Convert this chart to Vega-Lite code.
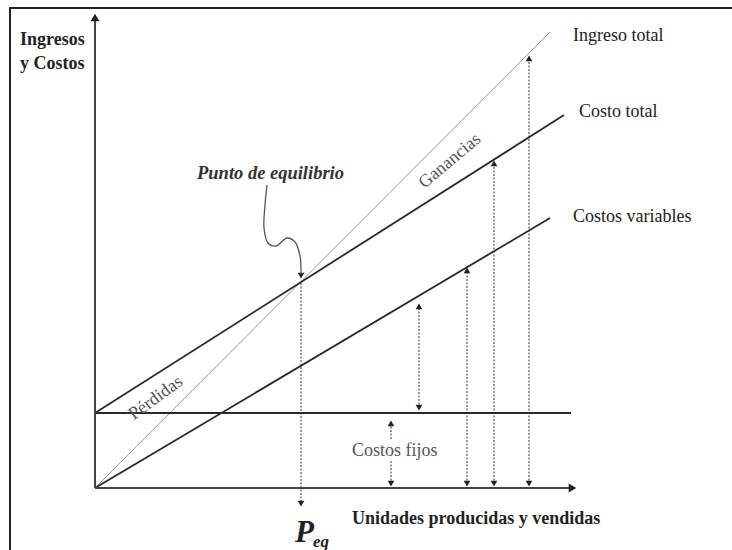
{
  "$schema": "https://vega.github.io/schema/vega-lite/v6.json",
  "width": 732,
  "height": 550,
  "autosize": "none",
  "padding": 0,
  "background": "white",
  "config": {"view": {"stroke": null}, "font": "Liberation Serif"},
  "datasets": {
    "marco": [
      {"x": -85, "y": -62, "orden": 1},
      {"x": -85, "y": 480, "orden": 2},
      {"x": 637, "y": 480, "orden": 3}
    ],
    "ejes": [
      {"eje": "Ingresos y Costos", "x": 0, "y": 0, "x2": 0, "y2": 470},
      {"eje": "Unidades", "x": 0, "y": 0, "x2": 478, "y2": 0}
    ],
    "puntas_ejes": [
      {"eje": "Ingresos y Costos", "x": 0, "y": 475, "sentido": "arriba"},
      {"eje": "Unidades", "x": 482, "y": 0, "sentido": "derecha"}
    ],
    "rectas": [
      {"serie": "Ingreso total", "x": 0, "y": 0, "x2": 455, "y2": 456},
      {"serie": "Costo total", "x": 0, "y": 75, "x2": 469, "y2": 373},
      {"serie": "Costos variables", "x": 0, "y": 0, "x2": 455, "y2": 270},
      {"serie": "Costos fijos", "x": 0, "y": 75, "x2": 476, "y2": 75}
    ],
    "cotas": [
      {"cota": "Peq", "x": 206, "y": -14, "x2": 206, "y2": 206},
      {"cota": "variable", "x": 324, "y": 80, "x2": 324, "y2": 180},
      {"cota": "fijos", "x": 296, "y": 4, "x2": 296, "y2": 28},
      {"cota": "fijos", "x": 296, "y": 49, "x2": 296, "y2": 64},
      {"cota": "cv", "x": 372, "y": 4, "x2": 372, "y2": 216},
      {"cota": "ct", "x": 399, "y": 4, "x2": 399, "y2": 323},
      {"cota": "it", "x": 434, "y": 4, "x2": 434, "y2": 428}
    ],
    "puntas_arriba": [
      {"x": 324, "y": 185},
      {"x": 296, "y": 68},
      {"x": 372, "y": 221},
      {"x": 399, "y": 328},
      {"x": 434, "y": 433}
    ],
    "puntas_abajo": [
      {"x": 206, "y": -19},
      {"x": 324, "y": 77},
      {"x": 296, "y": 1},
      {"x": 372, "y": 1},
      {"x": 399, "y": 1},
      {"x": 434, "y": 1},
      {"x": 206, "y": 209}
    ],
    "curva": [
      {"x": 172, "y": 303, "orden": 1},
      {"x": 170, "y": 283, "orden": 2},
      {"x": 169, "y": 260, "orden": 3},
      {"x": 173, "y": 245, "orden": 4},
      {"x": 181, "y": 242, "orden": 5},
      {"x": 192, "y": 250, "orden": 6},
      {"x": 200, "y": 246, "orden": 7},
      {"x": 205, "y": 232, "orden": 8},
      {"x": 206, "y": 214, "orden": 9}
    ],
    "titulos_ejes": [
      {"texto": "Ingresos", "x": -75, "y": 443},
      {"texto": "y Costos", "x": -75, "y": 419},
      {"texto": "Unidades producidas y vendidas", "x": 257, "y": -36}
    ],
    "etiquetas_rectas": [
      {"texto": "Ingreso total", "x": 478, "y": 447},
      {"texto": "Costo total", "x": 484, "y": 371},
      {"texto": "Costos variables", "x": 478, "y": 266}
    ],
    "ganancias": [{"texto": "Ganancias", "x": 355, "y": 327}],
    "perdidas": [{"texto": "Pérdidas", "x": 61, "y": 90}],
    "costos_fijos": [{"texto": "Costos fijos", "x": 257, "y": 32}],
    "punto": [{"texto": "Punto de equilibrio", "x": 102, "y": 309}],
    "p": [{"texto": "P", "x": 200, "y": -54}],
    "eq": [{"texto": "eq", "x": 218, "y": -59}]
  },
  "encoding": {
    "x": {"field": "x", "type": "quantitative", "scale": {"domain": [-95, 637], "nice": false, "zero": false}, "axis": null},
    "y": {"field": "y", "type": "quantitative", "scale": {"domain": [-62, 488], "nice": false, "zero": false}, "axis": null}
  },
  "layer": [
    {
      "data": {"name": "marco"},
      "mark": {"type": "line", "color": "#222", "strokeWidth": 2},
      "encoding": {"order": {"field": "orden", "type": "quantitative"}}
    },
    {
      "data": {"name": "rectas"},
      "transform": [{"filter": "datum.serie === 'Ingreso total'"}],
      "mark": {"type": "rule", "color": "#9a9a9a", "strokeWidth": 1},
      "encoding": {"x2": {"field": "x2"}, "y2": {"field": "y2"}}
    },
    {
      "data": {"name": "rectas"},
      "transform": [{"filter": "datum.serie !== 'Ingreso total'"}],
      "mark": {"type": "rule", "color": "#2a2a2a", "strokeWidth": 1.8},
      "encoding": {"x2": {"field": "x2"}, "y2": {"field": "y2"}}
    },
    {
      "data": {"name": "cotas"},
      "mark": {"type": "rule", "color": "#333", "strokeWidth": 1, "strokeDash": [2, 1.5]},
      "encoding": {"x2": {"field": "x2"}, "y2": {"field": "y2"}}
    },
    {
      "data": {"name": "ejes"},
      "mark": {"type": "rule", "color": "#444", "strokeWidth": 2},
      "encoding": {"x2": {"field": "x2"}, "y2": {"field": "y2"}}
    },
    {
      "data": {"name": "puntas_ejes"},
      "transform": [{"filter": "datum.sentido === 'arriba'"}],
      "mark": {"type": "point", "shape": "triangle-up", "filled": true, "color": "#222", "size": 80, "opacity": 1, "yOffset": 4.5}
    },
    {
      "data": {"name": "puntas_ejes"},
      "transform": [{"filter": "datum.sentido === 'derecha'"}],
      "mark": {"type": "point", "shape": "triangle-right", "filled": true, "color": "#222", "size": 80, "opacity": 1, "xOffset": -4.5}
    },
    {
      "data": {"name": "puntas_arriba"},
      "mark": {"type": "point", "shape": "triangle-up", "filled": true, "color": "#222", "size": 45, "opacity": 1, "yOffset": 3.4}
    },
    {
      "data": {"name": "puntas_abajo"},
      "mark": {"type": "point", "shape": "triangle-down", "filled": true, "color": "#222", "size": 45, "opacity": 1, "yOffset": -3.4}
    },
    {
      "data": {"name": "curva"},
      "mark": {"type": "line", "color": "#555", "strokeWidth": 1.3, "interpolate": "catmull-rom"},
      "encoding": {"order": {"field": "orden", "type": "quantitative"}}
    },
    {
      "data": {"name": "titulos_ejes"},
      "mark": {"type": "text", "font": "Liberation Serif", "fontWeight": "bold", "fontSize": 18, "align": "left", "baseline": "alphabetic", "color": "#222"},
      "encoding": {"text": {"field": "texto"}}
    },
    {
      "data": {"name": "etiquetas_rectas"},
      "mark": {"type": "text", "font": "Liberation Serif", "fontSize": 18, "align": "left", "baseline": "alphabetic", "color": "#222"},
      "encoding": {"text": {"field": "texto"}}
    },
    {
      "data": {"name": "ganancias"},
      "mark": {"type": "text", "font": "Liberation Serif", "fontSize": 18, "align": "center", "baseline": "middle", "angle": 320, "color": "#555"},
      "encoding": {"text": {"field": "texto"}}
    },
    {
      "data": {"name": "perdidas"},
      "mark": {"type": "text", "font": "Liberation Serif", "fontSize": 18, "align": "center", "baseline": "middle", "angle": 324, "color": "#555"},
      "encoding": {"text": {"field": "texto"}}
    },
    {
      "data": {"name": "costos_fijos"},
      "mark": {"type": "text", "font": "Liberation Serif", "fontSize": 18, "align": "left", "baseline": "alphabetic", "color": "#555"},
      "encoding": {"text": {"field": "texto"}}
    },
    {
      "data": {"name": "punto"},
      "mark": {"type": "text", "font": "Liberation Serif", "fontWeight": "bold", "fontStyle": "italic", "fontSize": 18.5, "align": "left", "baseline": "alphabetic", "color": "#333"},
      "encoding": {"text": {"field": "texto"}}
    },
    {
      "data": {"name": "p"},
      "mark": {"type": "text", "font": "Liberation Serif", "fontWeight": "bold", "fontStyle": "italic", "fontSize": 31, "align": "left", "baseline": "alphabetic", "color": "#222"},
      "encoding": {"text": {"field": "texto"}}
    },
    {
      "data": {"name": "eq"},
      "mark": {"type": "text", "font": "Liberation Serif", "fontWeight": "bold", "fontStyle": "italic", "fontSize": 17, "align": "left", "baseline": "alphabetic", "color": "#222"},
      "encoding": {"text": {"field": "texto"}}
    }
  ]
}
